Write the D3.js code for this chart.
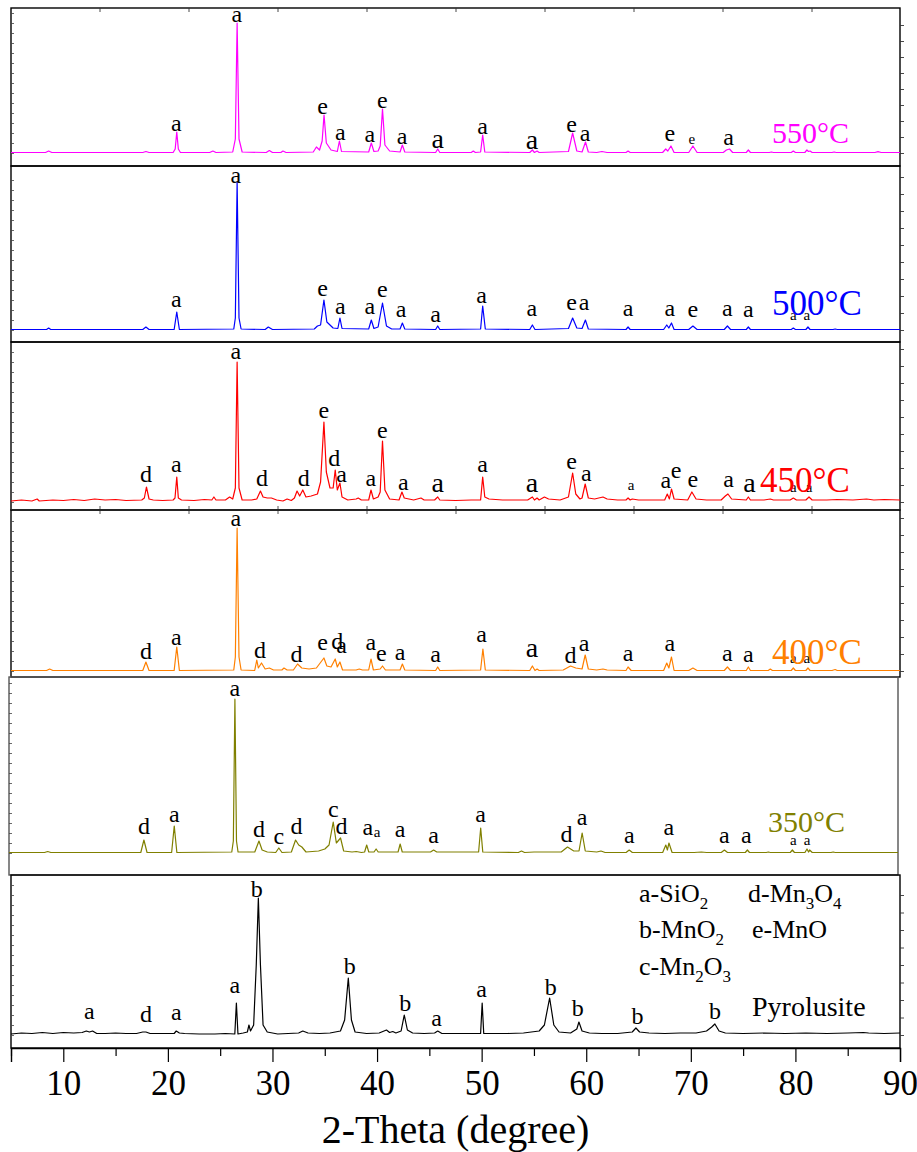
<!DOCTYPE html>
<html>
<head>
<meta charset="utf-8">
<script src="https://cdn.jsdelivr.net/npm/d3@7"></script>
<style>
  body { margin: 0; background: #fff; }
  svg { display: block; }
  text { font-family: "Liberation Serif", "Times New Roman", serif; }
</style>
</head>
<body>
<svg id="chart" width="917" height="1152"></svg>
<script>
// ---------------- data: XRD patterns, [2θ (deg), intensity (a.u., baseline = 0)] ----------------
const pattern550 = [[5,0.5],[8.3,0.5],[8.6,2],[8.9,0.5],[12,0.5],[17.6,0.5],[17.9,1.5],[18.2,0.5],[20.5,0.5],[20.7,4],[20.85,21],[21.0,4],[21.2,0.5],[24.0,0.5],[24.3,2],[24.6,0.5],[26.2,1],[26.45,14],[26.62,130],[26.8,14],[27.1,1],[29.4,0.5],[29.7,2.5],[30.0,0.5],[30.8,0.5],[31.0,2],[31.3,0.5],[33.9,1],[34.2,6],[34.5,3],[34.75,12],[34.93,38],[35.15,10],[35.6,3],[36.2,1.5],[36.4,12],[36.6,1.5],[39.2,1],[39.45,10],[39.7,1.5],[40.1,2],[40.3,7],[40.52,44],[40.75,8],[41.2,2],[42.2,1],[42.42,8],[42.65,1],[45.6,0.5],[45.8,4],[46.0,0.5],[49.0,0.5],[49.2,2],[49.4,0.5],[49.9,1],[50.1,18],[50.3,1],[54.6,0.5],[54.85,3],[55.05,0.5],[55.3,2],[55.5,0.5],[58.3,1.5],[58.7,20],[59.1,2],[59.6,1],[59.93,11],[60.2,1],[61.0,0.5],[61.5,1.5],[62.0,0.5],[63.8,0.5],[64.0,2],[64.2,0.5],[67.3,0.5],[67.6,4],[67.8,2],[68.1,7],[68.4,0.5],[69.8,0.5],[70.2,7],[70.6,0.5],[73.1,0.5],[73.4,3],[73.7,4],[74.0,0.5],[75.3,0.5],[75.5,3],[75.7,0.5],[77.5,0.5],[77.7,1],[77.9,0.5],[79.6,0.5],[79.8,2],[80.0,0.5],[80.9,0.5],[81.1,3],[81.25,1.5],[81.4,2],[81.6,0.5],[83.5,0.5],[83.7,1],[83.9,0.5],[87.6,0.5],[87.9,1.3],[88.2,0.5],[90,0.5]];

const pattern500 = [[5,0.5],[8.4,0.5],[8.6,2],[8.8,0.5],[17.6,0.5],[17.9,3],[18.2,0.5],[20.6,0.5],[20.85,18],[21.1,0.5],[26.3,1],[26.45,12],[26.62,148],[26.8,12],[27.0,1],[29.3,0.5],[29.6,3],[30.0,0.5],[34.0,1],[34.3,4],[34.6,5],[34.92,30],[35.2,8],[35.8,2],[36.25,1.5],[36.45,12],[36.65,1.5],[39.2,1],[39.45,10],[39.7,1.5],[40.1,3],[40.52,27],[40.9,4],[41.4,1],[42.2,1],[42.42,7],[42.65,1],[45.6,0.5],[45.8,4],[46.0,0.5],[49.9,1],[50.1,24],[50.35,1],[54.6,0.5],[54.85,5],[55.1,0.5],[58.3,1.5],[58.7,12],[59.1,2],[59.6,1.5],[59.92,10],[60.2,1],[63.8,0.5],[64.0,3],[64.2,0.5],[67.4,0.5],[67.7,5],[67.9,2],[68.15,7],[68.4,0.5],[69.8,0.5],[70.2,4],[70.6,0.5],[73.2,0.5],[73.5,4],[73.8,0.5],[75.3,0.5],[75.5,3],[75.7,0.5],[79.6,0.5],[79.8,2],[80.0,0.5],[81.0,0.5],[81.2,3],[81.4,0.5],[83.6,0.5],[83.8,1],[84,0.5],[90,0.5]];

const pattern450 = [[5,1],[6,2],[7,1],[7.5,3],[7.7,1],[9,2],[10,1.5],[11,2.5],[12,1.5],[13,3],[14,2],[15,2.5],[16,1.5],[17.5,2],[17.75,4],[17.95,15],[18.2,3],[18.6,2],[19.5,1.5],[20.5,2],[20.68,4],[20.85,25],[21.0,4],[21.3,2],[22.5,1.5],[23.5,2.5],[24.2,2],[24.4,5],[24.6,2],[25.5,2],[25.9,5],[26.2,3],[26.45,14],[26.62,140],[26.8,14],[27.1,2],[28.0,2],[28.5,3],[28.85,11],[29.1,5],[29.5,4],[29.9,4],[30.4,2],[31.0,1],[31.4,3],[31.8,1.5],[32.1,4],[32.35,11],[32.6,6],[32.9,12],[33.2,5],[33.7,6],[34.3,8],[34.6,20],[34.92,80],[35.15,30],[35.5,14],[35.8,14],[36.0,32],[36.2,12],[36.45,19],[36.65,5],[37.2,2],[38.0,3],[38.2,4],[38.5,2],[39.2,2],[39.42,12],[39.65,3],[40.1,5],[40.3,10],[40.52,61],[40.75,12],[41.2,3],[42.1,2],[42.38,10],[42.6,4],[43.5,2],[44.2,4],[44.5,2],[45.5,2],[45.8,5],[46.0,2],[47.5,1.5],[49.0,2],[49.9,2],[50.1,25],[50.3,5],[50.7,3],[52,2],[53.5,2],[54.4,2],[54.85,5],[55.05,2],[55.3,4],[55.5,2],[56.0,5],[56.4,3],[57.5,2],[58.3,5],[58.7,29],[59.0,8],[59.4,3],[59.6,4],[59.9,18],[60.2,4],[60.8,3],[61.6,5],[62.0,3],[63.0,2],[63.8,2],[64.0,4],[64.2,2],[64.4,3],[65.0,2],[66.5,2],[67.5,2],[67.75,8],[67.95,3],[68.15,13],[68.4,3],[69.7,2],[70.1,10],[70.5,3],[71.5,2],[72.9,2],[73.3,6],[73.55,8],[73.9,3],[75.3,2],[75.5,5],[75.7,2],[77.0,2],[77.6,3],[77.9,2],[79.5,2],[79.8,4],[80.1,2],[81.0,2],[81.3,5],[81.6,2],[83.0,2],[84.0,2.5],[85.5,2],[86.8,3],[87.5,2],[88.5,2.5],[90,2]];

const pattern400 = [[5,0.5],[8.4,0.5],[8.7,2],[9,0.5],[17.6,0.5],[17.9,9],[18.2,0.5],[20.6,0.5],[20.85,24],[21.1,0.5],[26.3,1],[26.45,14],[26.62,143],[26.8,14],[27.0,1],[28.3,0.5],[28.5,11],[28.65,3],[28.95,8],[29.3,2],[29.7,3],[30.1,1],[30.9,1],[31.1,3],[31.4,1],[32.0,1],[32.4,7],[32.8,3],[33.5,2],[34.2,3],[34.92,13],[35.2,5],[35.6,4],[36.0,12],[36.2,4],[36.45,9],[36.7,1],[38.0,1],[38.3,2],[38.6,1],[39.2,1],[39.42,12],[39.65,1],[40.3,2],[40.52,5],[40.8,1],[42.2,1],[42.42,7],[42.65,1],[45.6,0.5],[45.8,4],[46.0,0.5],[49.9,1],[50.12,22],[50.35,1],[54.6,0.5],[54.85,5],[55.1,0.5],[55.3,2],[55.5,0.5],[57.8,1],[58.5,5],[59.0,3],[59.6,2],[59.9,16],[60.2,2],[61.0,1],[61.6,2],[62,1],[63.8,0.5],[64.0,4],[64.3,0.5],[67.4,0.5],[67.7,8],[67.9,3],[68.15,14],[68.4,0.5],[69.8,0.5],[70.2,3],[70.6,0.5],[73.2,0.5],[73.5,4],[73.8,0.5],[75.3,0.5],[75.5,4],[75.7,0.5],[77.4,0.5],[77.6,2],[77.8,0.5],[79.6,0.5],[79.8,3],[80,0.5],[81.0,0.5],[81.2,3],[81.4,0.5],[83.5,0.5],[83.8,1.5],[84,0.5],[90,0.5]];

const pattern350 = [[5,0.5],[8.4,0.5],[8.7,1.5],[9.0,0.5],[17.6,0.5],[17.9,13],[18.2,0.5],[20.55,0.5],[20.8,27],[21.05,0.5],[26.3,1],[26.45,12],[26.6,154],[26.75,12],[26.9,1],[28.5,1],[28.9,12],[29.2,3],[29.7,1],[30.5,0.5],[30.8,5],[31.1,0.5],[32.0,1],[32.4,13],[32.7,8],[33.0,6],[33.4,1],[34.6,2],[35.2,4],[35.6,8],[36.0,31],[36.3,10],[36.7,15],[37.0,2],[37.8,1],[38.2,1.5],[38.7,0.5],[39.0,1],[39.2,8],[39.4,1],[39.9,1],[40.1,4],[40.3,1],[42.2,1],[42.4,9],[42.6,1],[45.3,1],[45.6,3],[45.9,1],[49.9,1],[50.1,25],[50.3,1],[53.7,0.5],[54.0,2],[54.3,0.5],[55.2,1],[55.8,1],[57.8,1],[58.4,6],[59.0,2],[59.5,2],[59.8,20],[60.1,2],[61.2,1],[61.6,2],[62.0,0.5],[64.0,0.5],[64.3,3],[64.6,0.5],[67.5,0.5],[67.8,8],[67.95,3],[68.1,10],[68.4,0.5],[70.5,0.5],[71.2,1],[71.7,0.5],[73.1,0.5],[73.4,3],[73.7,0.5],[75.4,0.5],[75.6,3],[75.8,0.5],[77.4,0.5],[77.6,1],[77.8,0.5],[79.7,0.5],[79.9,3],[80.1,0.5],[81.1,0.5],[81.3,4],[81.45,1],[81.55,3],[81.8,0.5],[83.6,0.5],[83.8,1],[84.0,0.5],[90,0.5]];

const patternPyrolusite = [[5,1],[6,2],[7,1.5],[8,2.5],[9,1.5],[10,2.5],[11,2],[11.8,2.5],[12.2,4],[12.5,3],[12.8,4],[13.2,1.5],[14,1.5],[15,2],[16,1.5],[17,1.5],[17.6,3],[17.9,3],[18.3,1.5],[19.5,1.5],[20.6,1.5],[20.8,4],[21.1,2],[21.6,1.5],[23,1],[24.5,1],[25.5,1.5],[26.4,1],[26.55,32],[26.7,1],[27.2,2],[27.6,3],[27.75,10],[27.9,4],[28.2,10],[28.45,70],[28.65,137],[28.85,70],[29.1,10],[29.5,3],[30.5,1],[31.5,1.5],[32.5,2],[32.9,4],[33.4,2],[34.5,1.5],[35.5,2],[36.5,4],[36.9,15],[37.25,57],[37.55,15],[37.9,3],[39,1.5],[40.2,2],[40.9,5],[41.2,2.5],[41.5,3.5],[41.8,2],[42.3,4],[42.6,20],[42.9,5],[43.4,2],[44.5,1.5],[45.5,2],[45.8,4],[46.2,1.5],[47.5,1.5],[49,1.5],[49.9,1.5],[50.05,32],[50.2,1.5],[51,1.5],[52.5,1.5],[54,2],[55.5,4],[56.0,10],[56.5,37],[56.9,10],[57.4,3],[58.5,2],[59.1,6],[59.3,13],[59.6,4],[60.3,2],[61.5,1.5],[63,1.5],[64.4,3],[64.75,7],[65.1,3],[66,2],[67.5,1.5],[69,2],[70.5,2],[71.5,4],[72.0,8],[72.3,11],[72.7,4],[73.3,2],[75,1.5],[77,2],[79,1.5],[81,2],[83,1.5],[85,2],[86.5,2.5],[87,2],[88.5,1.5],[90,2]];

// ---------------- data: phase marks [phase letter, 2θ, intensity level] ----------------
const marks550 = [["a",20.8,21],["a",26.6,130],["e",34.8,38],["a",36.5,12],["a",39.3,10],["e",40.5,44],["a",42.4,8],["a",45.8,4],["a",50.1,18],["a",54.8,3],["e",58.6,20],["a",59.9,11],["e",68.0,11],["e",70.1,8],["a",73.6,7]];
const marks500 = [["a",20.8,22],["a",26.5,146],["e",34.8,33],["a",36.5,15],["a",39.3,15],["e",40.5,32],["a",42.3,12],["a",45.6,7],["a",50.0,26],["a",54.8,13],["e",58.6,19],["a",59.8,19],["a",64.0,13],["a",68.0,13],["e",70.2,12],["a",73.5,13],["a",75.5,12],["a",79.8,9],["a",81.1,9]];
const marks450 = [["d",17.9,19],["a",20.8,29],["a",26.5,142],["d",29.0,15],["d",33.0,15],["e",34.9,83],["d",35.9,35],["a",36.6,19],["a",39.4,15],["e",40.5,63],["a",42.5,11],["a",45.8,9],["a",50.1,29],["a",54.8,9],["e",58.6,32],["a",60.0,20],["a",64.3,11],["a",67.6,13],["e",68.6,23],["e",70.2,14],["a",73.6,14],["a",75.6,9],["a",79.8,9],["a",81.3,9]];
const marks400 = [["d",17.9,11],["a",20.8,25],["a",26.5,144],["d",28.8,12],["d",32.3,8],["e",34.8,20],["d",36.2,21],["a",36.6,17],["a",39.4,20],["e",40.4,9],["a",42.2,10],["a",45.6,8],["a",50.0,28],["a",54.8,13],["d",58.5,7],["a",59.8,19],["a",64.0,9],["a",68.0,19],["a",73.5,9],["a",75.5,8],["a",79.8,7],["a",81.1,7]];
const marks350 = [["d",17.9,18],["a",20.8,30],["a",26.6,156],["d",28.9,15],["c",30.8,8],["d",32.5,18],["c",36.0,35],["d",36.8,18],["a",39.3,17],["a",40.2,15],["a",42.4,15],["a",45.6,9],["a",50.1,30],["d",58.3,10],["a",59.8,27],["a",64.3,9],["a",68.1,17],["a",73.4,9],["a",75.5,9],["a",80.0,7],["a",81.3,7]];
const marksPyrolusite = [["a",12.5,15],["d",17.9,12],["a",20.8,14],["a",26.4,41],["b",28.5,137],["b",37.4,60],["b",42.7,23],["a",45.7,8],["a",50.0,37],["b",56.6,39],["b",59.2,18],["b",64.9,10],["b",72.3,15]];

const sampleNames = ["550°C", "500°C", "450°C", "400°C", "350°C", "Pyrolusite"];
const xTicks = [10, 20, 30, 40, 50, 60, 70, 80, 90];
const xMinorTicks = [5, 15, 25, 35, 45, 55, 65, 75, 85];
const phaseKey = ["a-SiO_2", "d-Mn_3O_4", "b-MnO_2", "e-MnO", "c-Mn_2O_3"];
const xTitle = "2-Theta (degree)";

// ---------------- layout and styling ----------------
const panels = [
  { name: sampleNames[0], data: pattern550, marks: marks550, color: "#FF00FF", top: 8,   bottom: 166, base: 153, left: 11, right: 900, tag: { x: 772, y: 143, size: 30 }, rightTicks: 16, topTicks: true },
  { name: sampleNames[1], data: pattern500, marks: marks500, color: "#0000FF", top: 166, bottom: 342, base: 330, left: 11, right: 900, tag: { x: 772, y: 315, size: 35 }, rightTicks: 17 },
  { name: sampleNames[2], data: pattern450, marks: marks450, color: "#FF0000", top: 342, bottom: 510, base: 502, left: 11, right: 900, tag: { x: 760, y: 492, size: 35 }, rightTicks: 17, bottomTicks: true },
  { name: sampleNames[3], data: pattern400, marks: marks400, color: "#FF8000", top: 510, bottom: 677, base: 671, left: 11, right: 900, tag: { x: 772, y: 664, size: 35 }, rightTicks: 17 },
  { name: sampleNames[4], data: pattern350, marks: marks350, color: "#808000", top: 677, bottom: 875, base: 853, left: 9,  right: 898, tag: { x: 768, y: 832, size: 30 }, frame: "#555" },
  { name: sampleNames[5], data: patternPyrolusite, marks: marksPyrolusite, color: "#000000", top: 875, bottom: 1048, base: 1035, left: 11, right: 900, tag: { x: 752, y: 1016, size: 28, ink: "#000" }, rightTicks: 17.5 }
];
// marks printed in a smaller or larger face
const smallMarks = { "500°C": [79.8, 81.1], "450°C": [64.3, 79.8, 81.3], "400°C": [79.8, 81.1], "350°C": [40.2, 80.0, 81.3], "550°C": [70.1] };
const largeMarks = { "550°C": [45.8, 54.8], "450°C": [45.8, 54.8, 75.6], "400°C": [54.8] };
const FONT = "Liberation Serif";

const svg = d3.select("#chart");
const X0 = 5, X1 = 90;

panels.forEach(p => {
  const x = d3.scaleLinear().domain([X0, X1]).range([p.left, p.right]);
  // one intensity unit per pixel above each baseline
  const y = d3.scaleLinear().domain([0, 100]).range([p.base, p.base - 100]);
  const g = svg.append("g");

  g.append("rect")
    .attr("x", p.left).attr("y", p.top)
    .attr("width", p.right - p.left).attr("height", p.bottom - p.top)
    .attr("fill", "none").attr("stroke", p.frame || "#000").attr("stroke-width", 1.4);

  // fine inward ticks on the left edge
  g.append("g")
    .attr("transform", `translate(${p.left},0)`)
    .call(d3.axisRight(y).tickValues(d3.range(0, p.base - p.top - 4, 10)).tickSize(3).tickFormat(""))
    .call(a => a.select(".domain").remove())
    .call(a => a.selectAll("line").attr("stroke", "#444").attr("stroke-width", 0.8));

  // outward ticks on the right edge
  if (p.rightTicks) {
    g.append("g")
      .attr("transform", `translate(${p.right},0)`)
      .call(d3.axisRight(y).tickValues(d3.range(0, p.base - p.top - 4, p.rightTicks)).tickSize(4).tickFormat(""))
      .call(a => a.select(".domain").remove())
      .call(a => a.selectAll("line").attr("stroke", "#333").attr("stroke-width", 0.9));
  }
  // sparse ticks along the top / bottom frame
  const frameTickX = d3.range(1, 10).map(k => p.left + 89 * k);
  if (p.topTicks) {
    g.selectAll("line.ftop").data(frameTickX).join("line").attr("class", "ftop")
      .attr("x1", d => d).attr("x2", d => d).attr("y1", p.top).attr("y2", p.top + 4)
      .attr("stroke", "#333").attr("stroke-width", 0.9);
  }
  if (p.bottomTicks) {
    g.selectAll("line.fbot").data(frameTickX).join("line").attr("class", "fbot")
      .attr("x1", d => d).attr("x2", d => d).attr("y1", p.bottom - 4).attr("y2", p.bottom + 4)
      .attr("stroke", "#555").attr("stroke-width", 1);
    g.append("line").attr("x1", p.left).attr("x2", p.right).attr("y1", p.bottom).attr("y2", p.bottom)
      .attr("stroke", "#777").attr("stroke-width", 2.2);
  }

  const line = d3.line().x(d => x(d[0])).y(d => y(d[1]));
  g.append("path")
    .datum(p.data)
    .attr("fill", "none")
    .attr("stroke", p.color)
    .attr("stroke-width", 1.2)
    .attr("stroke-linejoin", "round")
    .attr("d", line);

  const small = smallMarks[p.name] || [];
  const large = largeMarks[p.name] || [];
  g.selectAll("text.mark")
    .data(p.marks)
    .join("text")
    .attr("class", "mark")
    .attr("x", d => x(d[1]))
    .attr("y", d => y(d[2]) - 1)
    .attr("text-anchor", "middle")
    .attr("font-family", FONT)
    .attr("font-size", d => small.includes(d[1]) ? 15 : large.includes(d[1]) ? 28 : 24)
    .attr("fill", "#000")
    .text(d => d[0]);

  g.append("text")
    .attr("x", p.tag.x).attr("y", p.tag.y)
    .attr("font-family", FONT)
    .attr("font-size", p.tag.size)
    .attr("fill", p.tag.ink || p.color)
    .text(p.name);

  if (p.name === sampleNames[5]) {
    const axis = d3.axisBottom(x).tickValues(xTicks).tickSize(14).tickPadding(8).tickFormat(d3.format("d"));
    const ax = g.append("g").attr("transform", `translate(0,${p.bottom})`).call(axis);
    ax.select(".domain").attr("stroke-width", 1.4);
    ax.selectAll(".tick line").attr("stroke-width", 1.2);
    ax.selectAll(".tick text").attr("font-size", 35).attr("font-family", FONT).attr("fill", "#000");
    g.append("g").attr("transform", `translate(0,${p.bottom})`)
      .call(d3.axisBottom(x).tickValues(xMinorTicks).tickSize(8).tickFormat(""))
      .call(a => a.select(".domain").remove())
      .call(a => a.selectAll("line").attr("stroke-width", 1.2));
    g.append("text")
      .attr("x", (p.left + p.right) / 2).attr("y", 1143)
      .attr("text-anchor", "middle")
      .attr("font-family", FONT).attr("font-size", 40)
      .text(xTitle);

    // phase key
    const keyPos = [[639, 902], [748, 902], [639, 938], [752, 938], [639, 975]];
    phaseKey.forEach((s, i) => {
      const t = g.append("text").attr("x", keyPos[i][0]).attr("y", keyPos[i][1])
        .attr("font-family", FONT).attr("font-size", 26);
      let shift = 0;
      s.split(/(_\d)/).filter(Boolean).forEach(part => {
        if (part[0] === "_") {
          t.append("tspan").attr("dy", 7).attr("font-size", 17).text(part.slice(1));
          shift = -7;
        } else {
          t.append("tspan").attr("dy", shift).attr("font-size", 26).text(part);
          shift = 0;
        }
      });
    });
  }
});
</script>
</body>
</html>
